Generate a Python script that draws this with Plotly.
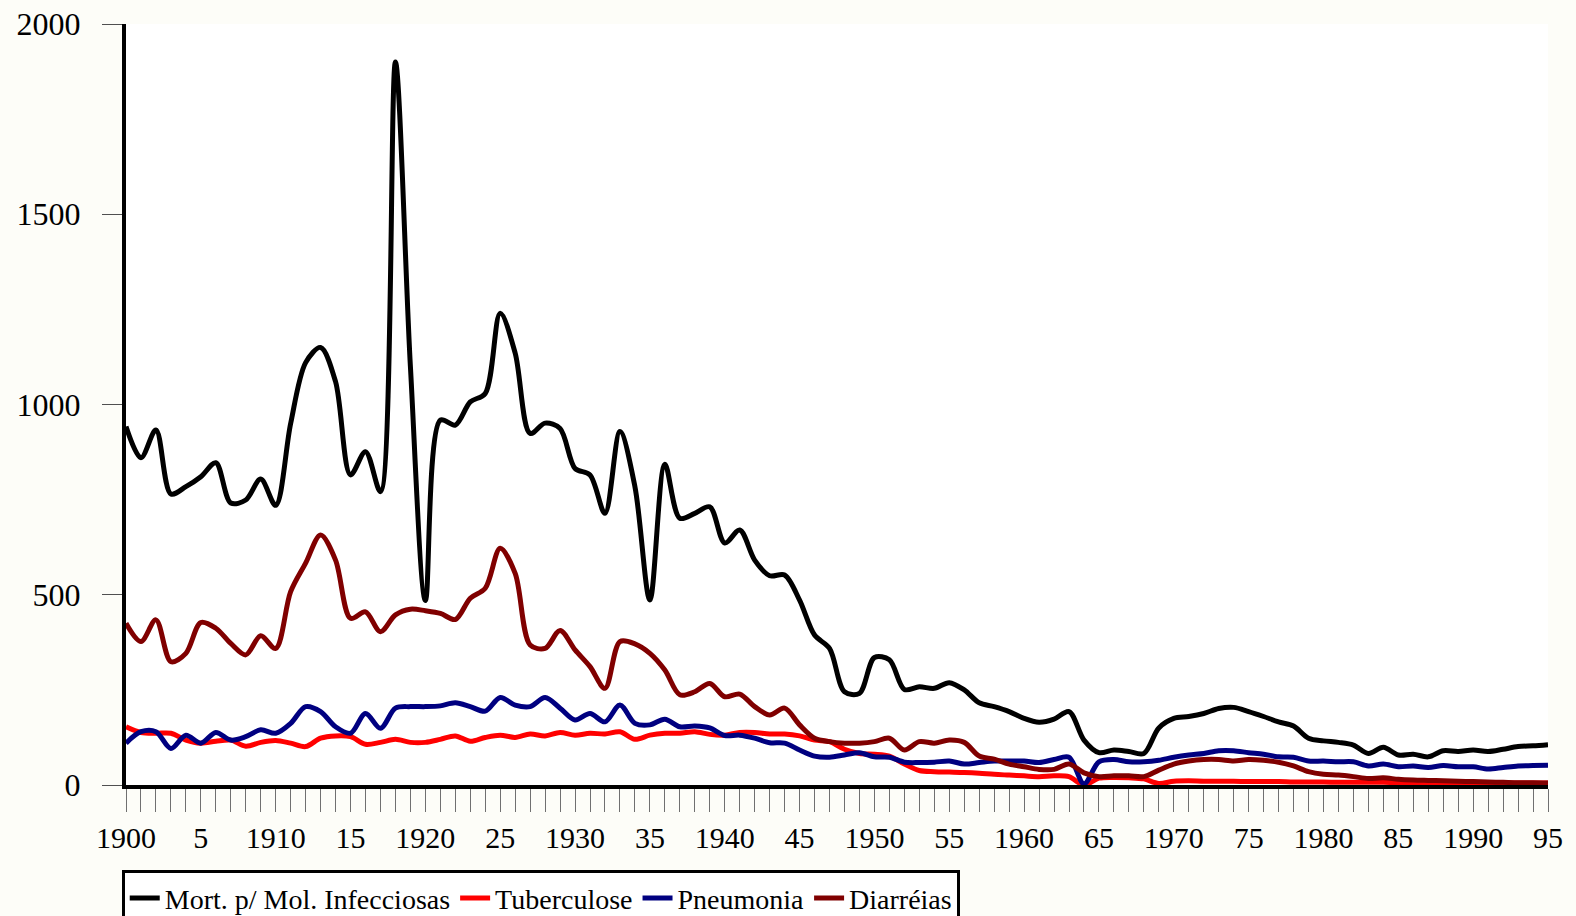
import plotly.graph_objects as go

years = list(range(1900, 1996))

mort_infecciosas = [
    942, 860, 933, 765, 784, 810, 847, 741, 749, 804,
    735, 950, 1110, 1150, 1060, 815, 876, 771, 1900, 1100,
    485, 959, 946, 1007, 1029, 1240, 1135, 924, 951, 937,
    832, 815, 714, 929, 784, 486, 843, 701, 714, 731,
    636, 670, 591, 550, 552, 486, 394, 359, 245, 241,
    335, 329, 251, 258, 254, 269, 250, 216, 206, 193,
    175, 165, 173, 193, 118, 85, 92, 88, 83, 150,
    175, 180, 188, 201, 204, 193, 180, 166, 155, 123,
    116, 112, 105, 83, 99, 79, 81, 74, 90, 88,
    92, 88, 94, 101, 103, 106,
]

tuberculose = [
    153, 138, 136, 136, 118, 110, 115, 118, 102, 112,
    117, 110, 101, 123, 129, 127, 107, 112, 120, 112,
    112, 120, 129, 115, 125, 131, 125, 134, 129, 138,
    131, 136, 134, 140, 120, 131, 136, 136, 140, 133,
    131, 138, 138, 134, 134, 129, 118, 114, 94, 83,
    81, 76, 55, 38, 35, 34, 33, 31, 28, 26,
    24, 22, 24, 22, 0, 18, 20, 19, 16, 4,
    10, 11, 10, 10, 10, 9, 9, 9, 8, 8,
    8, 7, 7, 7, 7, 6, 6, 6, 6, 5,
    5, 5, 5, 5, 5, 5,
]

pneumonia = [
    110, 140, 140, 96, 131, 110, 138, 118, 127, 145,
    136, 162, 206, 193, 153, 136, 188, 149, 202, 206,
    206, 208, 216, 206, 194, 230, 210, 206, 230, 202,
    171, 188, 166, 210, 162, 158, 173, 153, 155, 150,
    130, 131, 123, 111, 110, 92, 76, 73, 79, 85,
    74, 73, 60, 59, 60, 63, 55, 59, 63, 63,
    63, 59, 67, 73, 3, 61, 67, 61, 61, 65,
    73, 79, 83, 90, 90, 85, 81, 74, 73, 63,
    63, 61, 61, 50, 55, 48, 50, 46, 51, 48,
    48, 42, 46, 50, 51, 52,
]

diarreias = [
    425, 377, 434, 324, 346, 427, 412, 372, 342, 392,
    359, 508, 583, 657, 591, 438, 455, 403, 447, 462,
    458, 451, 435, 491, 517, 622, 556, 368, 359, 406,
    355, 311, 254, 377, 371, 346, 302, 237, 245, 267,
    232, 239, 206, 184, 202, 158, 123, 114, 110, 110,
    114, 123, 92, 114, 110, 118, 112, 76, 68, 55,
    48, 41, 41, 55, 32, 22, 24, 24, 22, 39,
    55, 63, 67, 67, 63, 67, 65, 60, 50, 35,
    28, 26, 22, 17, 19, 15, 13, 12, 11, 10,
    9, 8, 7, 6, 6, 5,
]

series_names = ["Mort. p/ Mol. Infecciosas", "Tuberculose", "Pneumonia", "Diarréias"]
series_values = [mort_infecciosas, tuberculose, pneumonia, diarreias]
series_colors = ["#000000", "#FF0000", "#000080", "#800000"]

x_tick_text = [str(y) if y % 10 == 0 else (str(y % 100) if y % 5 == 0 else "") for y in years]
y_ticks = [0, 500, 1000, 1500, 2000]

font_family = "Liberation Serif, Times New Roman, serif"

fig = go.Figure()
for name, vals, col in zip(series_names, series_values, series_colors):
    fig.add_trace(go.Scatter(
        x=years, y=vals, name=name, mode="lines",
        line=dict(color=col, width=5, shape="spline", smoothing=0.9),
    ))

fig.update_layout(
    width=1576, height=916,
    margin=dict(l=126, r=28, t=24, b=131, autoexpand=False),
    paper_bgcolor="#FDFDF8",
    plot_bgcolor="#FFFFFF",
    font=dict(family=font_family, color="black"),
    showlegend=True,
    legend=dict(
        orientation="h", x=-0.003, xanchor="left", y=-0.112, yanchor="top",
        font=dict(size=28, family=font_family, color="black"),
        bordercolor="black", borderwidth=3, bgcolor="white",
        itemwidth=30, tracegroupgap=0,
    ),
)

fig.update_xaxes(
    range=[1900, 1995], tickmode="array", tickvals=years, ticktext=x_tick_text,
    ticks="outside", ticklen=23, tickwidth=1, tickcolor="#707070",
    showline=True, linecolor="black", linewidth=4, showgrid=False, zeroline=False,
    tickfont=dict(size=30, family=font_family, color="black"),
    ticklabelstandoff=0, automargin=False,
)
fig.update_yaxes(
    range=[0, 2000], tickmode="array", tickvals=y_ticks,
    ticks="outside", ticklen=20, tickwidth=1, tickcolor="#505050",
    showline=True, linecolor="black", linewidth=4, showgrid=False, zeroline=False,
    tickfont=dict(size=32, family=font_family, color="black"),
    ticklabelstandoff=15, automargin=False,
)

fig.write_html(
    "out.html",
    config={"displayModeBar": False},
    post_script="document.body.style.margin='0';document.body.style.background='#FDFDF8';",
)
